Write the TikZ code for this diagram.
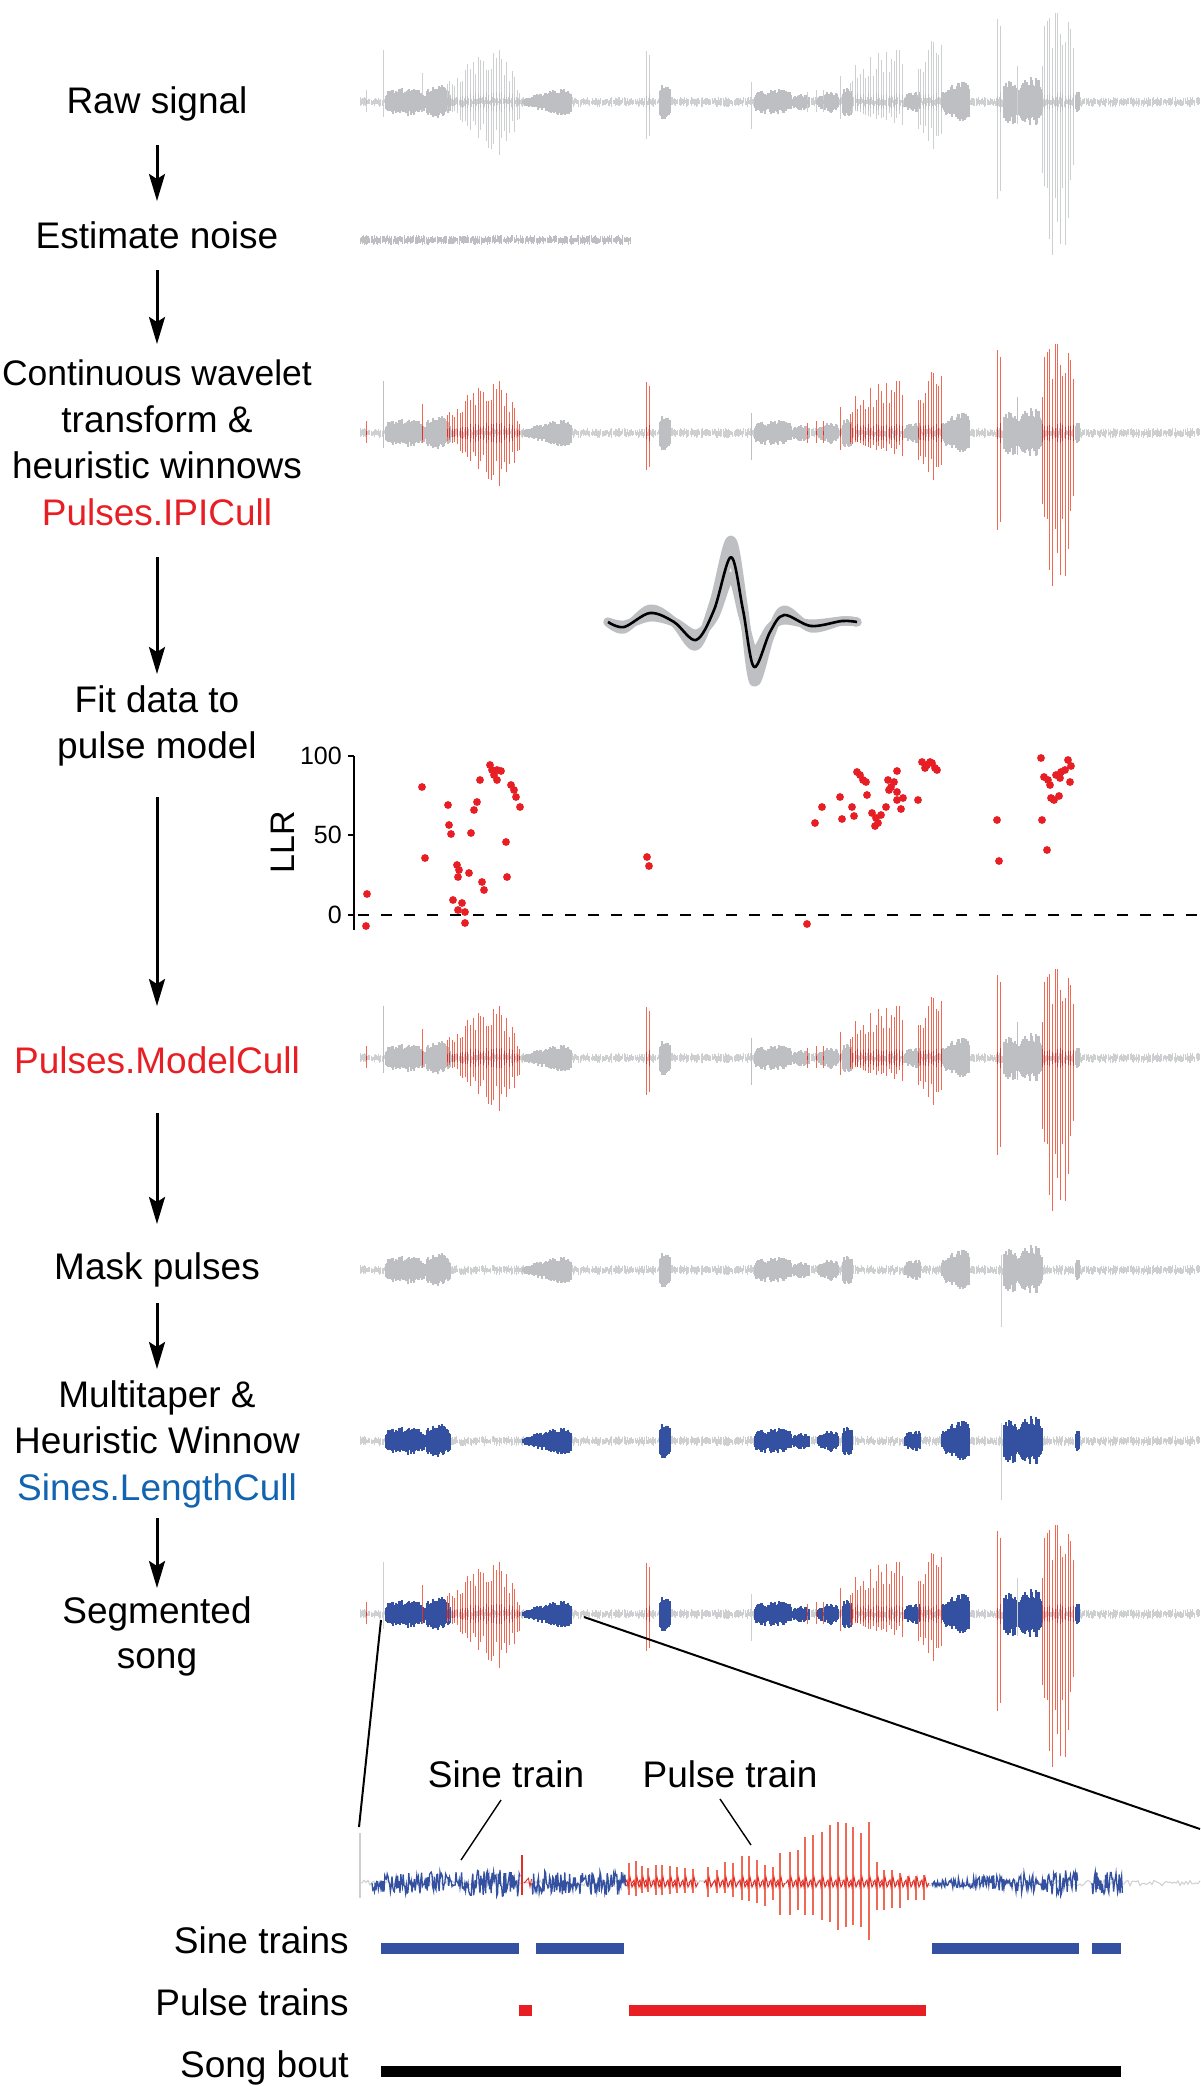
\documentclass[tikz,border=0pt]{standalone}
\usepackage{fontspec}
\setmainfont{Liberation Sans}
\usetikzlibrary{arrows.meta}
\definecolor{sgray}{RGB}{190,191,194}
\definecolor{lgray}{RGB}{206,207,209}
\definecolor{pred}{RGB}{239,105,85}
\definecolor{cred}{RGB}{226,48,40}
\definecolor{sblue}{RGB}{52,80,160}
\definecolor{tred}{RGB}{232,30,37}
\definecolor{tblue}{RGB}{18,100,176}
\tikzset{
  lbl/.style={font=\fontsize{37}{46}\selectfont, anchor=base, inner sep=0pt},
  arr/.style={line width=3pt, -{Stealth[length=27pt,width=16pt,inset=5pt]}},
  zoomline/.style={line width=2pt, black},
  ptr/.style={line width=1.4pt, black},
  bar/.style={line width=11pt},
}
% noise comb: style, x1, x2, base, amp
\newcommand{\wnoise}[5]{%
  \pgfmathtruncatemacro{\wnN}{(#3-#2)/1.1}%
  \draw[#1] \foreach \i in {0,...,\wnN}{ ({#2+1.1*\i},{#4-#5*(0.25+0.75*rnd)}) -- ({#2+1.1*\i},{#4+#5*(0.25+0.75*rnd)}) };}
% sine burst comb: style, x1, x2, base, amp, r0
\newcommand{\wsine}[6]{%
  \pgfmathtruncatemacro{\wsN}{#3-#2}%
  \draw[#1] \foreach \i [evaluate=\i as \wsE using {#5*(#6+(1-#6)*(\i+0.5)/(\wsN+1))*pow(sin(180*(\i+0.5)/(\wsN+1)),0.15)}] in {0,...,\wsN}{
    ({#2+\i},{#4-\wsE*(0.55+0.45*rnd)}) -- ({#2+\i},{#4+\wsE*(0.55+0.45*rnd)}) };}
% zigzag burst: style, x1, x2, base, amp0, amp1, step
\newcommand{\wzig}[7]{%
  \pgfmathtruncatemacro{\wzN}{(#3-#2)/#7}%
  \draw[#1] (#2,#4) \foreach \i [evaluate=\i as \wzA using {#5+(#6-#5)*\i/\wzN}] in {1,...,\wzN}{ -- ({#2+#7*\i},{#4+\wzA*rand}) };}
\def\sinelist{386/425/14/1, 427/450/17/1, 523/571/17/0.25, 660/670/19/1, 755/791/13/1, 793/809/8/1, 818/838/13/0.6, 843/852/15/1, 905/920/13/0.6, 942/969/25/0.5, 1004/1017/23/1, 1019/1042/25/1, 1076/1079/13/1}
\def\trainlist{366.5/366.5/366.5/12/12/12/10/10/10, 422.5/422.5/422.5/29/29/29/10/10/10, 447/500/520/22/63/15/8/57/20, 646.5/646.5/649.5/51/51/51/37/37/37, 807.5/807.5/807.5/10/10/10/10/10/10, 816.5/816.5/816.5/12/12/12/10/10/10, 823.5/823.5/823.5/12/12/12/10/10/10, 840.5/840.5/840.5/26/26/26/17/17/17, 850/903/904/36/66/66/14/24/24, 918/941/942/50/72/60/27/64/40, 997.5/997.5/1000.5/83/83/83/97/97/97, 1042/1060/1075/72/106/82/125/178/105}
% sines: style, base
\newcommand{\wsines}[2]{%
  \foreach \sa/\sb/\sam/\sr in \sinelist {\wsine{#1}{\sa}{\sb}{#2}{\sam}{\sr}}}
% pulses: line style, core style, base
\newcommand{\wpulses}[3]{%
  \foreach \xa/\xp/\xb/\ua/\ub/\uc/\da/\db/\dc in \trainlist {
    \pgfmathtruncatemacro{\wpN}{(\xb-\xa)/2.6}
    \foreach \k in {0,...,\wpN}{
      \pgfmathsetmacro{\xx}{\xa+2.6*\k}
      \pgfmathsetmacro{\uu}{(\xx<=\xp) ? (\ua+(\ub-\ua)*(\xx-\xa)/max(\xp-\xa,1)) : (\ub+(\uc-\ub)*(\xx-\xp)/max(\xb-\xp,1))}
      \pgfmathsetmacro{\dd}{(\xx<=\xp) ? (\da+(\db-\da)*(\xx-\xa)/max(\xp-\xa,1)) : (\db+(\dc-\db)*(\xx-\xp)/max(\xb-\xp,1))}
      \pgfmathsetmacro{\fu}{\wpN<2 ? 1-0.08*\k : 0.5+0.5*rnd}
      \pgfmathsetmacro{\fd}{\wpN<2 ? 1-0.08*\k : 0.5+0.5*rnd}
      \pgfmathsetmacro{\cc}{min(10,0.25*\uu)*(0.5+0.5*rnd)}
      \draw[#1] (\xx,{#3-\uu*\fu}) -- (\xx,{#3+\dd*\fd});
      \draw[#2] (\xx,{#3-\cc}) -- (\xx,{#3+\cc});
    }
  }}
% sporadic thin gray spikes: style, base
\newcommand{\wspikes}[2]{%
  \draw[#1] (383.5,{#2-52}) -- (383.5,{#2+15});
  \draw[#1] (751.5,{#2-20}) -- (751.5,{#2+27});
  \draw[#1] (1017.5,{#2-36}) -- (1017.5,{#2+22});}
\begin{document}
\begin{tikzpicture}[x=1pt,y=-1pt]
\useasboundingbox (0,0) rectangle (1200,2086);
\fill[white] (0,0) rectangle (1200,2086);

% ---------------- left column labels ----------------
\node[lbl] (raw) at (157,113) {Raw signal};
\node[lbl] (noise) at (157,248) {Estimate noise};
\node[lbl, font=\fontsize{35.5}{46}\selectfont] (cwt1) at (157,385) {Continuous wavelet};
\node[lbl] (cwt2) at (157,432) {transform \&};
\node[lbl] (cwt3) at (157,478) {heuristic winnows};
\node[lbl, text=tred] (ipi) at (157,525) {Pulses.IPICull};
\node[lbl] (fit1) at (157,712) {Fit data to};
\node[lbl] (fit2) at (157,758) {pulse model};
\node[lbl, text=tred] (model) at (157,1073) {Pulses.ModelCull};
\node[lbl] (mask) at (157,1279) {Mask pulses};
\node[lbl] (mt1) at (157,1407) {Multitaper \&};
\node[lbl] (mt2) at (157,1453) {Heuristic Winnow};
\node[lbl, text=tblue] (len) at (157,1500) {Sines.LengthCull};
\node[lbl] (seg1) at (157,1623) {Segmented};
\node[lbl] (seg2) at (157,1668) {song};

% arrows
\coordinate (a1s) at (157,145);  \coordinate (a1e) at (157,201);
\coordinate (a2s) at (157,270);  \coordinate (a2e) at (157,344);
\coordinate (a3s) at (157,557);  \coordinate (a3e) at (157,674);
\coordinate (a4s) at (157,797);  \coordinate (a4e) at (157,1006);
\coordinate (a5s) at (157,1113); \coordinate (a5e) at (157,1224);
\coordinate (a6s) at (157,1303); \coordinate (a6e) at (157,1369);
\coordinate (a7s) at (157,1518); \coordinate (a7e) at (157,1588);
\foreach \a in {1,...,7}{\draw[arr] (a\a s) -- (a\a e);}

% ---------------- raw signal ----------------
\pgfmathsetseed{11}
\wnoise{lgray,line width=1pt}{360}{1200}{102}{5}
\wsines{sgray,line width=1.2pt}{102}
\wspikes{lgray,line width=0.9pt}{102}
\pgfmathsetseed{7}
\wpulses{lgray,line width=0.9pt}{sgray,line width=1pt}{102}

% ---------------- estimate noise ----------------
\pgfmathsetseed{3}
\wnoise{sgray,line width=1pt}{360}{631}{240}{5}

% ---------------- CWT ----------------
\pgfmathsetseed{11}
\wnoise{lgray,line width=1pt}{360}{1200}{433}{5}
\wsines{sgray,line width=1.2pt}{433}
\wspikes{sgray,line width=0.9pt}{433}
\pgfmathsetseed{7}
\wpulses{pred,line width=1pt}{cred,line width=1pt}{433}

% ---------------- pulse model ----------------
\def\pm{(608,622) (624,627) (650,613) (674,622) (696,640) (714,610) (731,557) (743,610) (754,667) (770,632) (784,615) (811,626) (842,621) (857,622)}
\def\pmhi{(608,622) (624,629) (650,609) (674,622) (696,646) (714,602) (731,540) (743,604) (754,682) (770,636) (784,610) (811,628) (842,621) (857,622)}
\def\pmlo{(608,622) (624,625) (650,617) (674,622) (696,634) (714,617) (731,576) (743,616) (754,652) (770,628) (784,620) (811,624) (842,621) (857,622)}
\foreach \cv in {\pmhi,\pmlo,\pm}{
  \draw[sgray, line width=9pt, line join=round, line cap=round] plot[smooth, tension=0.55] coordinates {\cv};}
\draw[black, line width=2.6pt, line join=round] plot[smooth, tension=0.55] coordinates {\pm};

% ---------------- LLR plot ----------------
\draw[black, line width=1.2pt] (354,756) -- (354,930);
\foreach \ty/\tl in {756/100, 835/50, 915/0}{
  \draw[black, line width=1.2pt] (348,\ty) -- (354,\ty);
  \node[font=\fontsize{25}{28}\selectfont, anchor=east, inner sep=0pt] (tick\tl) at (342,\ty) {\tl};
}
\node[font=\fontsize{34}{38}\selectfont, rotate=90, inner sep=0pt] (llr) at (283,842) {LLR};
\draw[black, line width=1.5pt, dash pattern=on 11pt off 12pt] (358,915) -- (1200,915);
\foreach \px/\py in {367/894, 366/926, 422/787, 425/858, 448/805, 449/825, 451/834, 471/833, 474/810, 477/802, 480/780, 490/765, 494/775, 497/770, 501/771, 497/780, 492/770, 511/785, 514/790, 516/797, 520/807, 506/842, 507/877, 457/865, 459/870, 458/877, 469/873, 482/882, 484/890, 453/900, 458/910, 462/903, 465/912, 465/923, 647/857, 649/866, 807/924, 815/823, 822/807, 840/797, 842/819, 852/807, 854/816, 857/772, 860/775, 863/780, 866/782, 867/795, 872/813, 876/818, 878/823, 875/826, 881/815, 886/807, 888/780, 891/787, 889/790, 894/782, 897/771, 897/792, 897/800, 903/798, 901/809, 918/800, 922/762, 927/765, 932/763, 935/768, 937/770, 925/768, 930/762, 997/820, 999/861, 1041/758, 1042/820, 1044/777, 1048/780, 1047/850, 1050/785, 1054/800, 1051/798, 1059/796, 1056/775, 1061/772, 1065/770, 1060/778, 1068/760, 1071/766, 1070/782}
  {\fill[tred] (\px,\py) circle (3.9);}

% ---------------- ModelCull ----------------
\pgfmathsetseed{11}
\wnoise{lgray,line width=1pt}{360}{1200}{1058}{5}
\wsines{sgray,line width=1.2pt}{1058}
\wspikes{sgray,line width=0.9pt}{1058}
\pgfmathsetseed{7}
\wpulses{pred,line width=1pt}{cred,line width=1pt}{1058}

% ---------------- Mask pulses ----------------
\pgfmathsetseed{11}
\wnoise{lgray,line width=1pt}{360}{1200}{1270}{5}
\wsines{sgray,line width=1.2pt}{1270}
\draw[lgray,line width=0.8pt] (1001.5,1255) -- (1001.5,1327);

% ---------------- Multitaper ----------------
\pgfmathsetseed{11}
\wnoise{lgray,line width=1pt}{360}{1200}{1441}{5}
\wsines{sblue,line width=1.2pt}{1441}
\draw[lgray,line width=0.8pt] (1001.5,1423) -- (1001.5,1500);

% ---------------- Segmented song ----------------
\pgfmathsetseed{11}
\wnoise{lgray,line width=1pt}{360}{1200}{1614}{5}
\wsines{sblue,line width=1.2pt}{1614}
\wspikes{lgray,line width=0.9pt}{1614}
\pgfmathsetseed{7}
\wpulses{pred,line width=1pt}{cred,line width=1pt}{1614}

% zoom lines
\coordinate (zl1) at (381,1620); \coordinate (zl2) at (359,1827);
\coordinate (zr1) at (584,1617); \coordinate (zr2) at (1200,1829);
\draw[zoomline] (zl1) -- (zl2);
\draw[zoomline] (zr1) -- (zr2);

% ---------------- detail waveform ----------------
\pgfmathsetseed{5}
\draw[lgray, line width=1.4pt] (360,1833) -- (360,1898);
\wzig{lgray,line width=1pt}{360}{1200}{1883}{3}{3}{2}
\wzig{sblue,line width=1.3pt}{372}{520}{1883}{9}{14}{0.8}
\wzig{sblue,line width=1.3pt}{532}{627}{1883}{12}{12}{0.8}
\wzig{sblue,line width=1.3pt}{932}{1078}{1883}{3}{14}{0.8}
\wzig{sblue,line width=1.3pt}{1092}{1123}{1883}{13}{11}{0.8}
\draw[cred, line width=1.3pt] (522,1855) -- (522,1895);
\wzig{cred,line width=1pt}{524}{532}{1883}{7}{5}{1.5}
\foreach \px/\pu/\pd in {629/20/12, 636/22/13, 642/17/10, 648/15/9, 656/18/12, 662/18/12, 670/17/11, 677/16/10, 685/15/10, 693/14/10, 708/16/14, 717/13/10, 725/21/10, 733/20/14, 742/27/17, 749/27/18, 757/23/20, 765/18/23, 773/16/17, 780/30/32, 790/31/32, 798/33/27, 805/46/32, 813/48/32, 822/51/37, 830/58/39, 838/61/47, 846/60/44, 853/56/42, 861/50/44, 869/61/57, 877/21/27, 884/13/27, 892/13/25, 900/10/25, 908/7/17, 916/7/17, 924/8/17}{
  \draw[pred, line width=1.2pt] (\px,{1883-\pu}) -- (\px,{1883+\pd});
  \draw[cred, line width=1pt] ({\px-4},1883) -- ({\px-2},1880) -- ({\px-1},1887) -- ({\px+1},1877) -- ({\px+3},1887) -- ({\px+5},1883);
}

% pointer labels
\node[lbl] (sinelbl) at (506,1787) {Sine train};
\node[lbl] (pulselbl) at (730,1787) {Pulse train};
\coordinate (sp1) at (501,1800); \coordinate (sp2) at (461,1860);
\coordinate (pp1) at (720,1799); \coordinate (pp2) at (751,1845);
\draw[ptr] (sp1) -- (sp2);
\draw[ptr] (pp1) -- (pp2);

% ---------------- bars ----------------
\node[lbl, anchor=base east] (sinetr) at (349,1953) {Sine trains};
\node[lbl, anchor=base east] (pulsetr) at (349,2015) {Pulse trains};
\node[lbl, anchor=base east] (bout) at (349,2077) {Song bout};
\draw[bar, sblue] (381,1948) -- (519,1948);
\draw[bar, sblue] (536,1948) -- (624,1948);
\draw[bar, sblue] (932,1948) -- (1079,1948);
\draw[bar, sblue] (1092,1948) -- (1121,1948);
\draw[bar, tred] (519,2010) -- (532,2010);
\draw[bar, tred] (629,2010) -- (926,2010);
\draw[bar, black] (381,2071) -- (1121,2071);
\end{tikzpicture}
\end{document}
